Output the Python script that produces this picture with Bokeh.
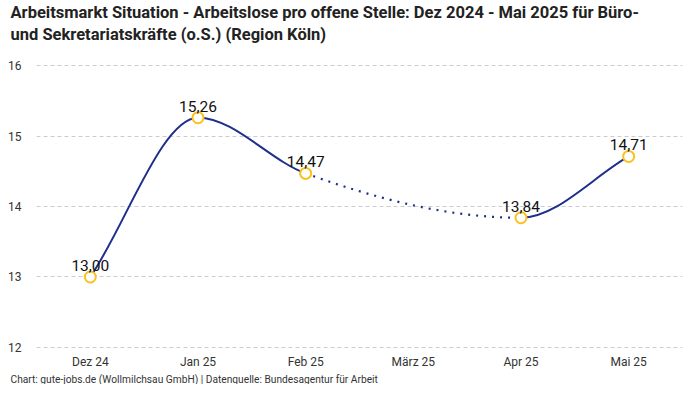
from bokeh.plotting import figure
from bokeh.models import Title, FixedTicker, ColumnDataSource, Range1d
from bokeh.core.properties import value
from bokeh.embed import file_html
from bokeh.resources import INLINE

categories = ["Dez 24", "Jan 25", "Feb 25", "März 25", "Apr 25", "Mai 25"]
values = [13.00, 15.26, 14.47, None, 13.84, 14.71]
y_ticks = [12, 13, 14, 15, 16]

title_line1 = "Arbeitsmarkt Situation - Arbeitslose pro offene Stelle: Dez 2024 - Mai 2025 für Büro-"
title_line2 = "und Sekretariatskräfte (o.S.) (Region Köln)"
footer = "Chart: gute-jobs.de (Wollmilchsau GmbH) | Datenquelle: Bundesagentur für Arbeit"

LINE = "#1f2f8c"
MARK = "#fbc11b"
FONT = "Roboto"

W, H = 684, 384
LEFT, RIGHT, TOP, BOTTOM = 36, 2, 62, 36

# points with data (gaps spanned)
px = [i for i, v in enumerate(values) if v is not None]
py = [v for v in values if v is not None]
n = len(px)

# monotone cubic tangents (Chart.js style)
d = [(py[i + 1] - py[i]) / (px[i + 1] - px[i]) for i in range(n - 1)]
m = [0.0] * n
m[0] = d[0]
m[-1] = d[-1]
for i in range(1, n - 1):
    if d[i - 1] == 0 or d[i] == 0 or (d[i - 1] > 0) != (d[i] > 0):
        m[i] = 0.0
    else:
        m[i] = (d[i - 1] + d[i]) / 2
for i in range(n - 1):
    if d[i] == 0:
        m[i] = m[i + 1] = 0.0
        continue
    a = m[i] / d[i]
    b = m[i + 1] / d[i]
    t2 = a * a + b * b
    if t2 > 9:
        tau = 3 / t2 ** 0.5
        m[i] = a * tau * d[i]
        m[i + 1] = b * tau * d[i]

solid = dict(x0=[], y0=[], x1=[], y1=[], cx0=[], cy0=[], cx1=[], cy1=[])
dotted = dict(x0=[], y0=[], x1=[], y1=[], cx0=[], cy0=[], cx1=[], cy1=[])
for i in range(n - 1):
    dx = (px[i + 1] - px[i]) / 3
    tgt = dotted if px[i + 1] - px[i] > 1 else solid
    tgt["x0"].append(px[i]); tgt["y0"].append(py[i])
    tgt["x1"].append(px[i + 1]); tgt["y1"].append(py[i + 1])
    tgt["cx0"].append(px[i] + dx); tgt["cy0"].append(py[i] + dx * m[i])
    tgt["cx1"].append(px[i + 1] - dx); tgt["cy1"].append(py[i + 1] - dx * m[i + 1])

p = figure(width=W, height=H, output_backend="svg", toolbar_location=None,
           x_range=Range1d(-0.5, len(categories) - 0.5), y_range=Range1d(11.985, 16.015),
           min_border_left=LEFT, min_border_right=RIGHT, min_border_top=TOP,
           min_border_bottom=BOTTOM)
p.outline_line_color = None
p.background_fill_color = "white"

p.bezier("x0", "y0", "x1", "y1", "cx0", "cy0", "cx1", "cy1",
         source=ColumnDataSource(solid), line_color=LINE, line_width=2)
p.bezier("x0", "y0", "x1", "y1", "cx0", "cy0", "cx1", "cy1",
         source=ColumnDataSource(dotted), line_color=LINE, line_width=2.2, line_dash="2 6")

p.scatter(px, py, size=11, marker="circle", fill_color="white", line_color=MARK, line_width=2)

lbl = ColumnDataSource(dict(x=px, y=py, t=[f"{v:.2f}".replace(".", ",") for v in py]))
p.text("x", "y", text="t", source=lbl, text_align="center", text_baseline="bottom",
       y_offset=-6, text_font_size="15.5px", text_color="#111111", text_font=value(FONT))

p.xgrid.grid_line_color = None
p.ygrid.grid_line_color = "#cccccc"
p.ygrid.grid_line_dash = "4 3"
p.ygrid.ticker = FixedTicker(ticks=y_ticks)

for ax in (p.xaxis, p.yaxis):
    ax.axis_line_color = None
    ax.major_tick_line_color = None
    ax.minor_tick_line_color = None
    ax.major_tick_out = 0
    ax.major_tick_in = 0
    ax.minor_tick_out = 0
    ax.minor_tick_in = 0
    ax.major_label_text_font_size = "12px"
    ax.major_label_text_color = "#333333"
    ax.major_label_text_font = FONT

p.yaxis.ticker = FixedTicker(ticks=y_ticks)
p.yaxis.major_label_standoff = 15

p.xaxis.ticker = FixedTicker(ticks=list(range(len(categories))))
p.xaxis.major_label_overrides = {i: c for i, c in enumerate(categories)}
p.xaxis.major_label_standoff = 6

p.title.text = title_line1 + "\n" + title_line2
p.title.align = "left"
p.title.offset = 10 - LEFT
p.title.standoff = 0
p.title.text_line_height = 1.2
p.title.text_font = FONT
p.title.text_font_style = "bold"
p.title.text_font_size = "16.5px"
p.title.text_color = "#222222"

# spacer between title block and plot area
p.add_layout(Title(text=" ", standoff=0, text_font=FONT, text_font_size="15px"), "above")
p.add_layout(Title(text=footer, align="left", offset=10 - LEFT, standoff=0,
                   text_font=FONT, text_font_style="normal", text_font_size="10.2px",
                   text_color="#333333"), "below")

open("out.html", "w").write(file_html(p, INLINE))
